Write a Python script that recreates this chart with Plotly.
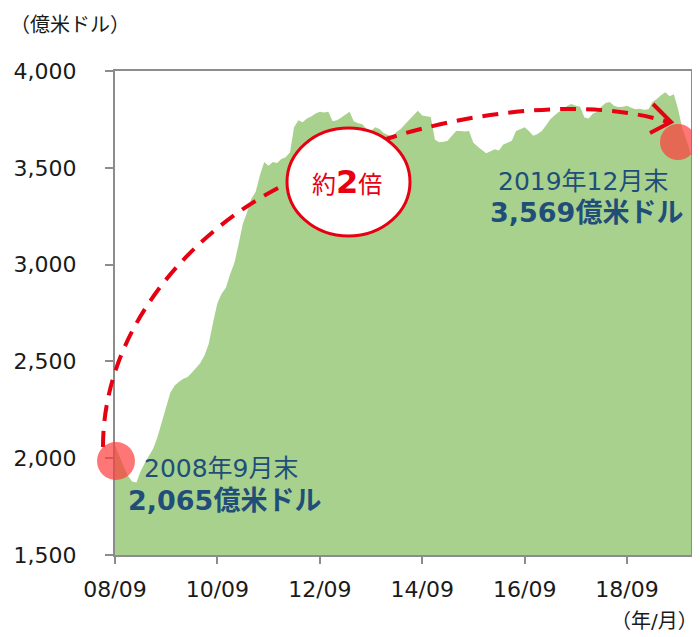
import plotly.graph_objects as go
import pandas as pd

# ---- data ----
start_month = "2008-09-01"
values = [
    2065, 2010, 1960, 1910, 1880, 1875, 1930, 1975, 2010, 2050,
    2110, 2190, 2270, 2340, 2375, 2395, 2410, 2420, 2440, 2465,
    2490, 2530, 2590, 2700, 2800, 2850, 2880, 2950, 3010, 3110,
    3210, 3270, 3340, 3375, 3460, 3530, 3510, 3530, 3525, 3545,
    3555, 3580, 3710, 3745, 3735, 3755, 3765, 3780, 3790, 3785,
    3790, 3740, 3745, 3760, 3775, 3790, 3740, 3730, 3725, 3700,
    3690, 3710, 3700, 3680, 3670, 3660, 3685, 3700, 3725, 3750,
    3775, 3795, 3770, 3765, 3762, 3645, 3632, 3635, 3640, 3665,
    3690, 3690, 3688, 3690, 3630, 3610, 3590, 3575, 3585, 3596,
    3590, 3620, 3630, 3640, 3690, 3700, 3710, 3690, 3665, 3675,
    3690, 3720, 3750, 3770, 3788, 3800, 3820, 3830, 3820, 3815,
    3760, 3755, 3780, 3790, 3815, 3835, 3840, 3820, 3814, 3815,
    3820, 3810, 3803, 3805, 3800, 3803, 3840, 3855, 3875, 3890,
    3870, 3880, 3800, 3700, 3640, 3569,
]
tick_dates = ["2008-09-01", "2010-09-01", "2012-09-01", "2014-09-01", "2016-09-01", "2018-09-01"]
tick_labels = ["08/09", "10/09", "12/09", "14/09", "16/09", "18/09"]
y_ticks = [1500, 2000, 2500, 3000, 3500, 4000]
y_tick_labels = ["1,500", "2,000", "2,500", "3,000", "3,500", "4,000"]

dates = pd.date_range(start_month, periods=len(values), freq="MS")

# page body has an 8px default margin: work in screen pixels, shift by OFF
OFF = 8
W, H = 700 - OFF, 637 - OFF
X0, X1, Y0, Y1 = 115, 691, 71, 555          # plot area on screen
ML, MT = X0 - OFF, Y0 - OFF
MR, MB = W - (X1 - OFF), H - (Y1 - OFF)
PW, PH = W - ML - MR, H - MT - MB

def px(x):
    return (x - OFF - ML) / PW

def py(y):
    return (H - MB - (y - OFF)) / PH

RED = "#e60012"
BLUE = "#1f4e79"
FONT = "DejaVu Sans"

fig = go.Figure()
fig.add_trace(go.Scatter(
    x=dates, y=values, mode="lines", fill="tozeroy",
    fillcolor="#a9d18e", line=dict(width=0, color="#a9d18e"),
    hoverinfo="skip", showlegend=False,
))

axis_common = dict(showline=True, linecolor="#8c8c8c", linewidth=2, mirror=True,
                   showgrid=False, zeroline=False, ticks="outside",
                   tickcolor="#8c8c8c", tickwidth=2, automargin=False,
                   tickfont=dict(family=FONT, size=22, color="#1a1a1a"))

fig.update_xaxes(range=[dates[0], dates[-1]], tickvals=tick_dates, ticktext=tick_labels,
                 ticklen=7, ticklabelstandoff=7, **axis_common)
fig.update_yaxes(range=[1500, 4000], tickvals=y_ticks, ticktext=y_tick_labels,
                 ticklen=8, ticklabelstandoff=24, **axis_common)

shapes = []
def P(x, y):
    return f"{px(x):.5f},{py(y):.5f}"

# dashed curved arrow
path = (f"M {P(103,447)} C {P(103,330)} {P(190,230)} {P(290,182)} "
        f"C {P(380,125)} {P(560,88)} {P(668,122)}")
shapes.append(dict(type="path", path=path, xref="paper", yref="paper",
                   line=dict(color=RED, width=4, dash="16px,10px"), layer="above"))
# arrow head
shapes.append(dict(type="path", path=f"M {P(653,104)} L {P(671,122)} L {P(650,133)}",
                   xref="paper", yref="paper", line=dict(color=RED, width=4), layer="above"))
# ellipse
shapes.append(dict(type="circle", xref="paper", yref="paper",
                   x0=px(287), x1=px(410), y0=py(236), y1=py(128),
                   fillcolor="white", line=dict(color=RED, width=3), layer="above"))
# red dots
for cx, cy, r in [(116, 461, 19), (678, 142, 18)]:
    shapes.append(dict(type="circle", xref="paper", yref="paper",
                       x0=px(cx - r), x1=px(cx + r), y0=py(cy + r), y1=py(cy - r),
                       fillcolor="rgba(255,60,60,0.7)", line=dict(width=0), layer="above"))

annotations = [
    dict(text="（億米ドル）", x=8, y=25, anchor="left", font=dict(size=20, color="#1a1a1a")),
    dict(text="（年/月）", x=700, y=621, anchor="right", font=dict(size=20, color="#1a1a1a")),
    dict(text="2008年9月末", x=142, y=468, anchor="left", font=dict(size=25, color=BLUE)),
    dict(text="<b>2,065億米ドル</b>", x=126, y=500, anchor="left", font=dict(size=27, color=BLUE)),
    dict(text="2019年12月末", x=496, y=181, anchor="left", font=dict(size=25, color=BLUE)),
    dict(text="<b>3,569億米ドル</b>", x=488, y=212, anchor="left", font=dict(size=27, color=BLUE)),
    dict(text="約<b><span style='font-size:32px'>2</span></b>倍", x=310, y=182, anchor="left",
         font=dict(size=24, color=RED)),
]
ann_objs = []
for a in annotations:
    ann_objs.append(dict(text=a["text"], xref="paper", yref="paper",
                         x=px(a["x"]), y=py(a["y"]), xanchor=a["anchor"], yanchor="middle",
                         showarrow=False,
                         font=dict(family="DejaVu Sans, Noto Sans CJK JP", **a["font"])))

fig.update_layout(
    width=W, height=H,
    margin=dict(l=ML, r=MR, t=MT, b=MB, autoexpand=False),
    plot_bgcolor="white", paper_bgcolor="white",
    shapes=shapes, annotations=ann_objs,
    font=dict(family="DejaVu Sans, Noto Sans CJK JP"),
)

fig.write_html("out.html")
